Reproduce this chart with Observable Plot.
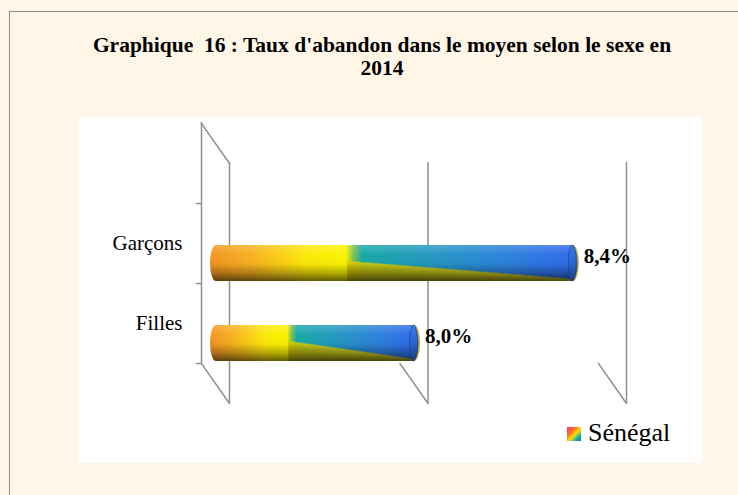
<!DOCTYPE html>
<html>
<head>
<meta charset="utf-8">
<script src="https://cdn.jsdelivr.net/npm/d3@7"></script>
<script src="https://cdn.jsdelivr.net/npm/@observablehq/plot@0.6"></script>
<style>
  html, body { margin: 0; padding: 0; width: 738px; height: 495px; overflow: hidden; background: #FFF6E8; font-family: "Liberation Serif", "Times New Roman", serif; }
  #frame { position: absolute; left: 9px; top: 11px; width: 780px; height: 540px; border: 1px solid #8f8f8f; box-sizing: border-box; }
  #title { position: absolute; left: 0; top: 34px; width: 764px; text-align: center; font-weight: bold; font-size: 21.5px; line-height: 23px; color: #000; white-space: pre; }
  #plot { position: absolute; left: 79px; top: 117px; width: 623px; height: 346px; background: #fff; }
  #plot svg { display: block; }
  #swatch { position: absolute; left: 567px; top: 427px; width: 14px; height: 14px; background: linear-gradient(135deg, #ff2a8a 0%, #ff7a20 35%, #ffe000 55%, #10b0b0 78%, #1a5fd8 100%); }
  #legendText { position: absolute; left: 588px; top: 418px; font-size: 26px; line-height: 30px; color: #000; }
</style>
</head>
<body>
<div id="frame"></div>
<div id="title"></div>
<div id="plot"></div>
<div id="swatch"></div>
<div id="legendText"></div>
<script>
// ---- data ----
const titleLines = ["Graphique  16 : Taux d'abandon dans le moyen selon le sexe en", "2014"];
const categories = ["Garçons", "Filles"];
const values = [8.4, 8.0];
const seriesName = "Sénégal";
const gridTicks = [7.5, 8.0, 8.5];
const xDomain = [7.5, 8.5];

// ---- build ----
document.getElementById("title").textContent = titleLines.join("\n");
document.getElementById("legendText").textContent = seriesName;

const rows = categories.map((c, i) => ({cat: c, value: values[i]}));
const yDomain = ["", ...categories];
const base = xDomain[0];
const lastCat = categories[categories.length - 1];
const fmt = v => v.toFixed(1).replace(".", ",") + "%";

const gridColor = "#8f8f8f";
const front = {dx: -28, dy: -40};   // front plane offset (3D depth)
const mid = {dx: -14, dy: -20};     // bars sit midway in depth
const wedgeStart = 0.37;            // fraction of bar where the colour turns
const lineShape = {draw(ctx, l) { ctx.moveTo(0, 0); ctx.lineTo(0, -l); }};
const cyl = {y: "cat", x1: () => base, x2: "value", dx: mid.dx, dy: mid.dy, insetTop: 22, insetBottom: 22, insetLeft: -5, insetRight: -5, rx: 6, ry: 18};

const chart = Plot.plot({
  width: 623,
  height: 346,
  marginLeft: 150,
  marginRight: 76,
  marginTop: 45,
  marginBottom: 60,
  style: {background: "transparent", fontFamily: "'Liberation Serif', serif", color: "#000"},
  x: {domain: xDomain, axis: null},
  y: {domain: yDomain, padding: 0, axis: null},
  marks: [
    // back wall gridlines
    Plot.ruleX(gridTicks, {stroke: gridColor, strokeWidth: 1.5}),
    // floor diagonals
    Plot.vector(gridTicks, {x: d => d, y: () => lastCat, dy: 40, length: 49, rotate: -35, anchor: "start", shape: lineShape, stroke: gridColor, strokeWidth: 1.5}),
    // top-left diagonal
    Plot.vector([base], {x: d => d, y: () => "", dy: -40, length: 49, rotate: -35, anchor: "start", shape: lineShape, stroke: gridColor, strokeWidth: 1.5}),
    // front category axis line
    Plot.ruleX([base], {dx: front.dx, dy: front.dy, stroke: gridColor, strokeWidth: 1.5}),
    // category axis ticks
    Plot.vector(yDomain, {x: () => base, y: d => d, dx: front.dx, length: 5, rotate: -90, anchor: "start", shape: lineShape, stroke: gridColor, strokeWidth: 1.5}),
    // category labels
    Plot.text(categories, {y: d => d, frameAnchor: "left", textAnchor: "end", dx: -47, dy: -40, fontSize: 21, fill: "#000"}),
    // cylinder: rim behind
    Plot.barX(rows, {...cyl, dx: mid.dx + 1.5, fill: "#C9A42A"}),
    // cylinder body
    Plot.barX(rows, {...cyl, fill: "url(#cylBody)"}),
    // yellow wedge under the teal part
    Plot.barX(rows, {...cyl, x1: d => base + wedgeStart * (d.value - base), insetLeft: 0, insetRight: 0, rx: 0, ry: 0, fill: "url(#cylWedge)"}),
    // shading
    Plot.barX(rows, {...cyl, fill: "url(#cylShade)"}),
    // end cap
    Plot.barX(rows, {...cyl, x1: "value", insetLeft: -4, insetRight: -4, rx: 4, fill: "url(#capGrad)", stroke: "#1b3f7a", strokeWidth: 0.6}),
    // value labels
    Plot.text(rows, {x: "value", y: "cat", text: d => fmt(d.value), textAnchor: "start", dx: -3, dy: -27, fontSize: 21, fontWeight: "bold", fill: "#000"})
  ]
});

// gradients
const defs = d3.select(chart).insert("defs", ":first-child");
const lg = (id, attrs, stops) => {
  const g = defs.append("linearGradient").attr("id", id);
  Object.entries(attrs).forEach(([k, v]) => g.attr(k, v));
  stops.forEach(([o, c, a]) => g.append("stop").attr("offset", o).attr("stop-color", c).attr("stop-opacity", a == null ? 1 : a));
};
lg("cylBody", {x1: 0, y1: 0, x2: 1, y2: 0}, [
  [0, "#F39424"], [0.12, "#F7B41E"], [0.26, "#FDE80A"], [0.37, "#FAF400"], [0.39, "#7CC24A"], [0.415, "#17A8A6"],
  [0.6, "#2398C0"], [0.8, "#2C82DC"], [1, "#3168EC"]
]);
lg("cylWedge", {x1: 0, y1: 0.42, x2: -0.12, y2: 0.66}, [
  [0, "#E2D000", 0], [0.15, "#E2D000", 0.85], [1, "#C8B400", 0.9]
]);
lg("cylShade", {x1: 0, y1: 0, x2: 0, y2: 1}, [
  [0, "#ffffff", 0.18], [0.3, "#ffffff", 0], [0.55, "#000000", 0.05], [0.8, "#000000", 0.32], [1, "#000000", 0.62]
]);
lg("capGrad", {x1: 0, y1: 0, x2: 0, y2: 1}, [
  [0, "#3a7cf0"], [0.5, "#2a64d0"], [1, "#163e7a"]
]);

document.getElementById("plot").appendChild(chart);
</script>
</body>
</html>
